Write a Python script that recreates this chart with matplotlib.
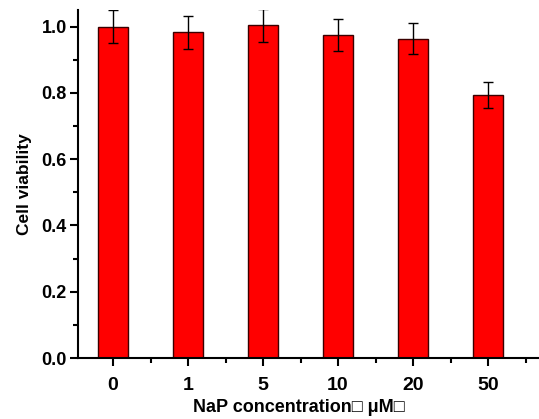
import matplotlib
matplotlib.use('Agg')
import matplotlib.pyplot as plt
from matplotlib.ticker import MultipleLocator

# data
concentrations = ['0', '1', '5', '10', '20', '50']
viability = [1.000, 0.983, 1.004, 0.974, 0.964, 0.794]
viability_err = [0.050, 0.050, 0.050, 0.049, 0.048, 0.040]

plt.rcParams['font.family'] = ['Liberation Sans', 'DejaVu Sans']
plt.rcParams['font.weight'] = 'bold'

fig = plt.figure(figsize=(5.39, 4.19), dpi=100)
ax = fig.add_axes([78 / 539, 61 / 419, 467 / 539, 348 / 419])

x = list(range(len(concentrations)))
ax.bar(x, viability, width=0.4, color='#ff0000', edgecolor='#3a0000', linewidth=1.0,
       yerr=viability_err, error_kw=dict(ecolor='black', elinewidth=1.0, capsize=3.5, capthick=1.0))

ax.set_xlim(-0.467, 5.76)
ax.set_ylim(0, 1.05)

ax.set_xticks(x)
ax.set_xticklabels(concentrations)
ax.xaxis.set_minor_locator(MultipleLocator(0.5))
ax.yaxis.set_major_locator(MultipleLocator(0.2))
ax.yaxis.set_minor_locator(MultipleLocator(0.1))
ax.yaxis.set_major_formatter(plt.FormatStrFormatter('%.1f'))

ax.spines['top'].set_visible(False)
ax.spines['right'].set_visible(False)
for s in ('left', 'bottom'):
    ax.spines[s].set_linewidth(1.5)

ax.tick_params(axis='both', which='major', direction='out', length=6, width=1.5, pad=2)
ax.tick_params(axis='both', which='minor', direction='out', length=3.5, width=1.5)
ax.tick_params(axis='y', which='major', labelsize=13)
ax.tick_params(axis='x', which='major', labelsize=14, pad=8)

ax.set_xlabel('NaP concentration\u25a1 \u03bcM\u25a1', fontsize=13, fontweight='bold')
ax.xaxis.set_label_coords(221 / 467, -41 / 348)
ax.set_ylabel('Cell viability', fontsize=12.5, fontweight='bold', labelpad=7)

fig.savefig('out.png', dpi=100)
